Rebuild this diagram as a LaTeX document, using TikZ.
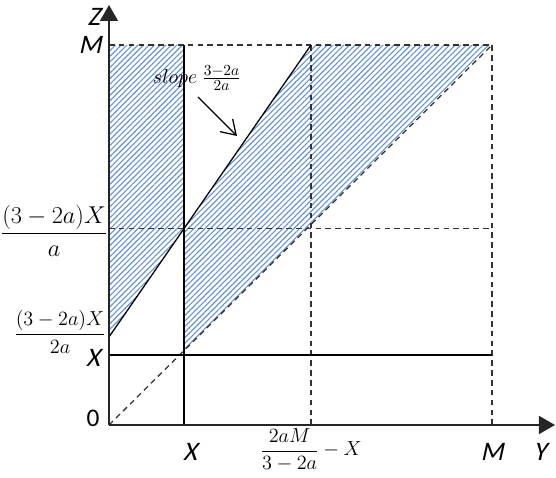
\documentclass[tikz,border=0pt]{standalone}
\usepackage{fontspec}
\setmainfont{Carlito}
\newfontfamily\slfont{Carlito}[FakeSlant=0.22]
\usepackage{amsmath}
\usetikzlibrary{arrows.meta,patterns.meta}

\definecolor{hatchblue}{RGB}{100,145,215}

\begin{document}
\begin{tikzpicture}[
  axis/.style={-{Triangle[length=0.4cm,width=0.45cm]}, line width=1.1pt, draw=black!85},
  solid line/.style={line width=0.9pt},
  dash line/.style={line width=0.9pt, draw=black!80, dash pattern=on 4pt off 3pt},
  hatch/.style={pattern={Lines[angle=45,distance=2.8pt,line width=0.8pt]}, pattern color=hatchblue},
  lbl/.style={font=\fontsize{19}{21}\slfont, inner sep=1pt},
  num/.style={font=\fontsize{16}{18}\selectfont, inner sep=1pt}
]
\useasboundingbox (-2.725,-1.325) rectangle (11.175,10.625);

% corner points
\coordinate (o)  at (0,0);
\coordinate (ye) at (11.15,0);
\coordinate (ze) at (0,10.5);
\coordinate (mz) at (0,9.5);
\coordinate (mm) at (9.575,9.5);
\coordinate (my) at (9.575,0);
\coordinate (xy) at (1.875,0);
\coordinate (xt) at (1.875,9.5);
\coordinate (by) at (5.05,0);
\coordinate (bt) at (5.05,9.5);
\coordinate (h)  at (0,2.2);
\coordinate (p)  at (1.875,4.91);
\coordinate (pa) at (0,4.91);
\coordinate (pm) at (9.575,4.91);
\coordinate (q)  at (1.875,1.86);
\coordinate (xz) at (0,1.75);
\coordinate (xm) at (9.575,1.75);

% shaded regions
\fill[hatch] (mz) -- (xt) -- (p) -- (h) -- cycle;
\fill[hatch] (q) -- (mm) -- (bt) -- (p) -- cycle;

% grid lines
\draw[dash line] (mz) -- (mm);
\draw[dash line] (by) -- (bt);
\draw[dash line] (my) -- (mm);
\draw[dash line] (pa) -- (pm);
\draw[dash line] (o) -- (mm);
\draw[solid line] (xy) -- (xt);
\draw[solid line] (xz) -- (xm);
\draw[solid line] (h) -- (bt);

% axes
\draw[axis] (o) -- (ye);
\draw[axis] (o) -- (ze);

% slope note
\node[font=\fontsize{15}{17}\selectfont, inner sep=1pt] (sl) at (2.2,8.675) {$slope\ \frac{3-2a}{2a}$};
\coordinate (sa) at (2.225,8.2);
\coordinate (sb) at (3.2,7.225);
\draw[solid line, -{Straight Barb[length=0.35cm,width=0.45cm]}] (sa) -- (sb);

% axis labels
\node[lbl] (zl) at (-0.375,10.2) {Z};
\node[lbl] (ml) at (-0.475,9.5) {M};
\node[num] (al) at (-1.375,4.85) {$\dfrac{(3-2a)X}{a}$};
\node[font=\fontsize{14}{16}\selectfont, inner sep=1pt] (hl) at (-1.225,2.325) {$\dfrac{(3-2a)X}{2a}$};
\node[lbl] (xl) at (-0.4,1.675) {X};
\node[num, font=\fontsize{18}{20}\selectfont] (ol) at (-0.4,0.175) {0};
\node[lbl] (xb) at (2.025,-0.675) {X};
\node[font=\fontsize{15}{17}\selectfont, inner sep=1pt] (bl) at (5.05,-0.625) {$\dfrac{2aM}{3-2a}-X$};
\node[lbl] (mb) at (9.575,-0.675) {M};
\node[lbl] (yl) at (10.775,-0.675) {Y};

\end{tikzpicture}
\end{document}
